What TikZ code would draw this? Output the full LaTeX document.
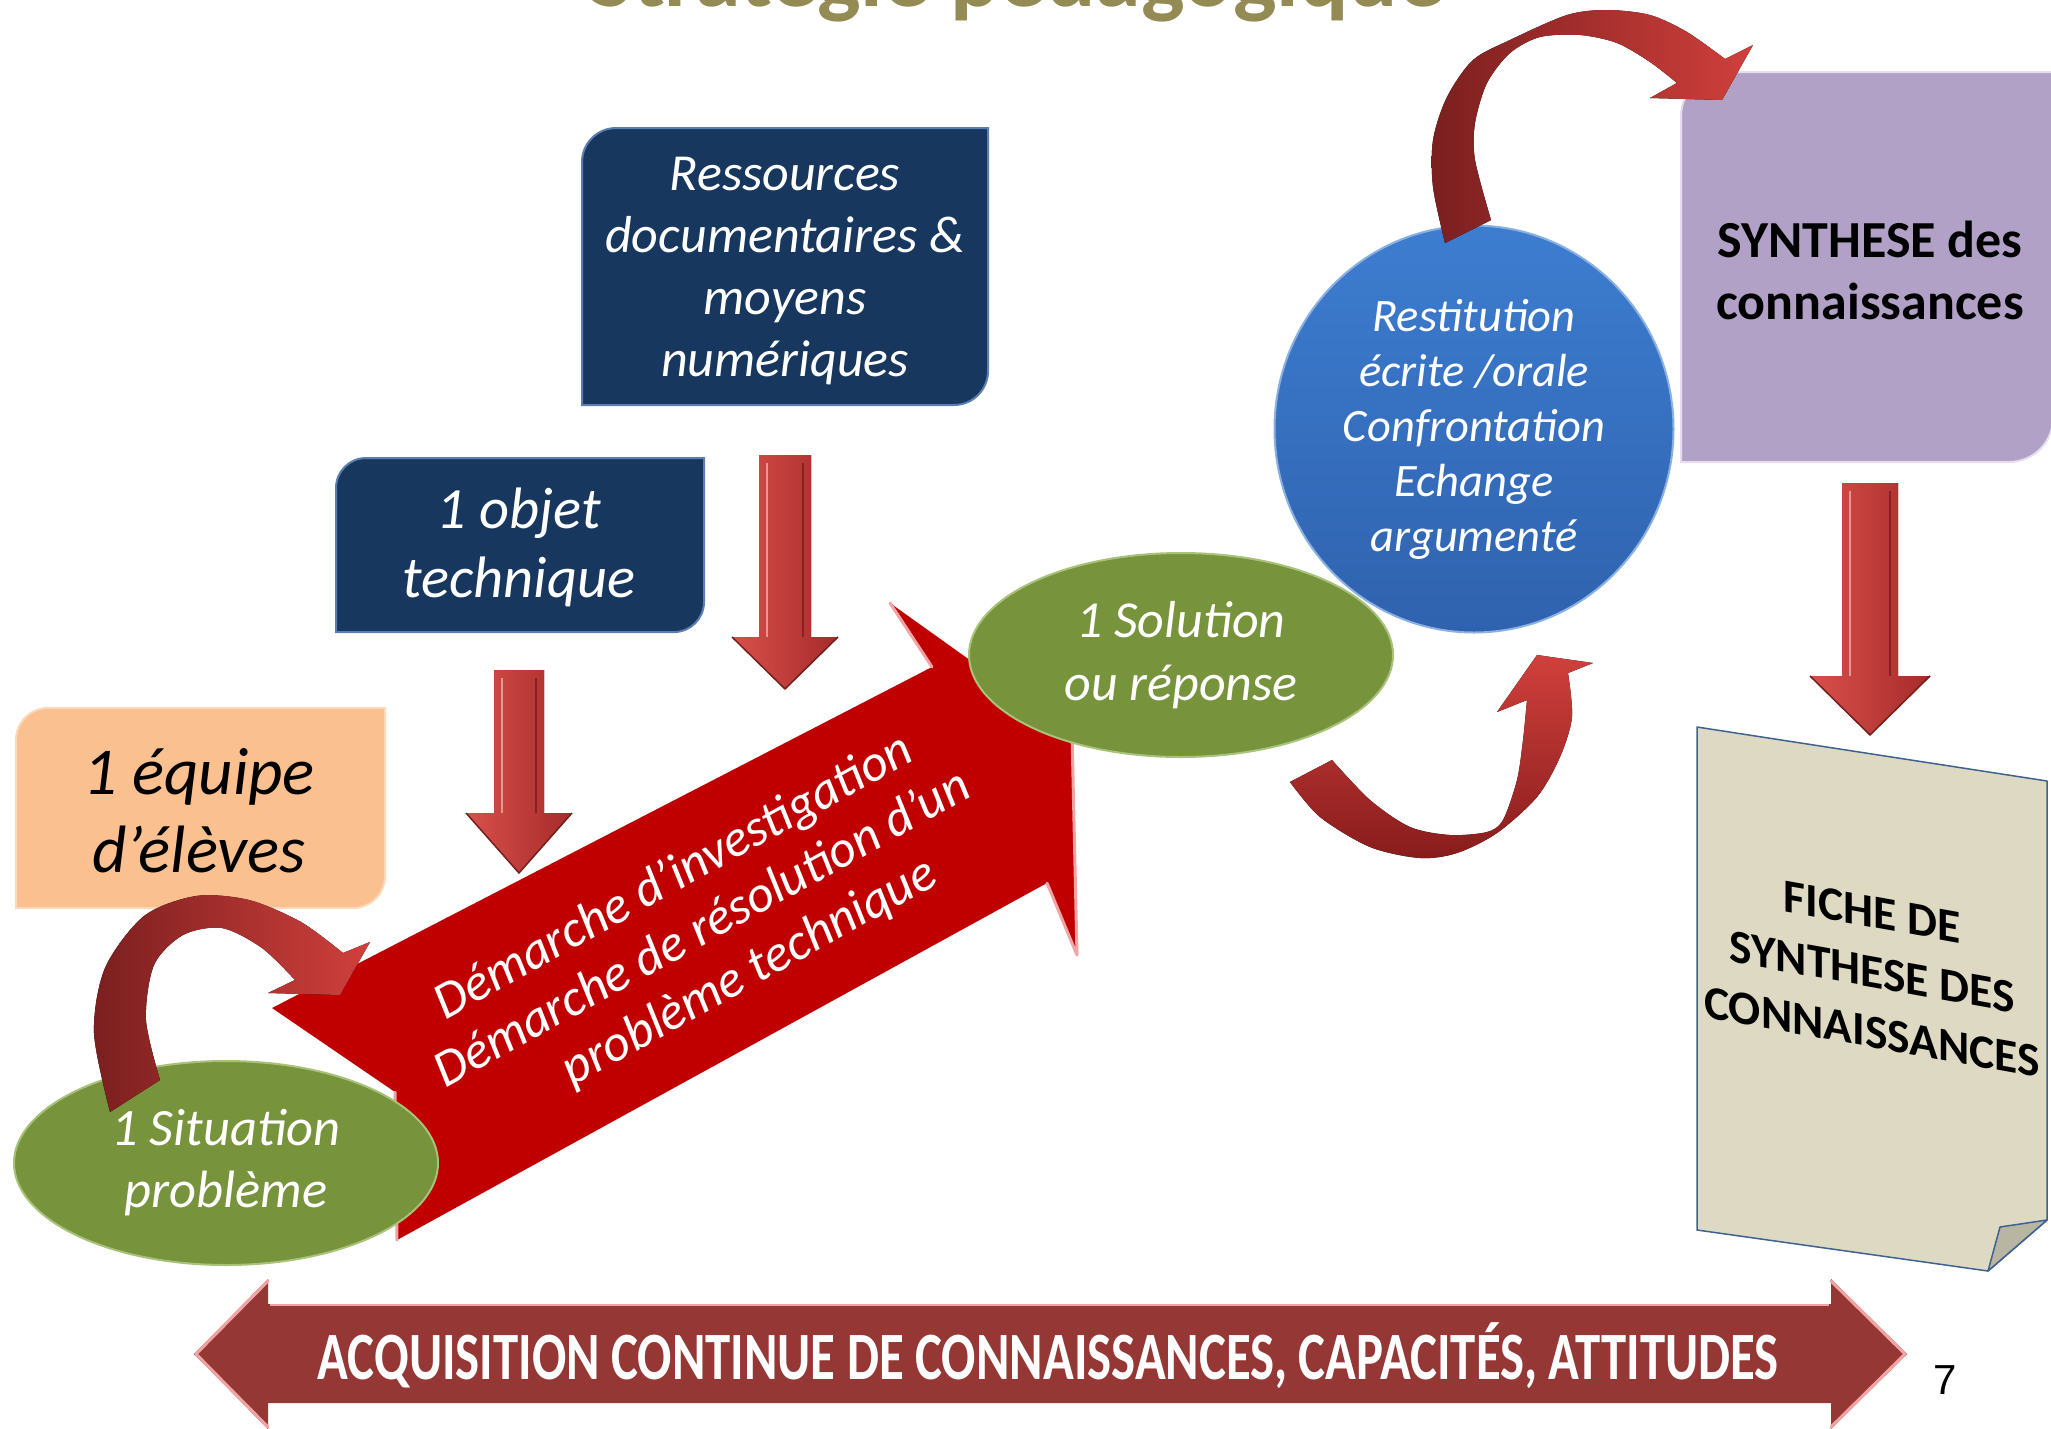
\documentclass[tikz,border=0pt]{standalone}
\usepackage{fontspec}
\setmainfont{Carlito}
\newfontfamily\arialfont{Liberation Sans}
\usepackage{graphicx}
\usetikzlibrary{shapes.geometric}
\definecolor{navy}{HTML}{17375E}
\definecolor{navyedge}{HTML}{5A7FB0}
\definecolor{peach}{HTML}{FAC090}
\definecolor{peachedge}{HTML}{FCD9B8}
\definecolor{lav}{HTML}{B2A1C7}
\definecolor{lavedge}{HTML}{E6DDF0}
\definecolor{olivegreen}{HTML}{77933C}
\definecolor{greenedge}{HTML}{A9C27A}
\definecolor{bluetop}{HTML}{3D7DD0}
\definecolor{bluebot}{HTML}{2F62AE}
\definecolor{bigred}{HTML}{C00000}
\definecolor{curvdark}{HTML}{7A1F1F}
\definecolor{curvlight}{HTML}{D0403C}
\definecolor{arrowl}{HTML}{D9504B}
\definecolor{arrowr}{HTML}{A52B2A}
\definecolor{bottomred}{HTML}{953735}
\definecolor{paper}{HTML}{DDD9C3}
\definecolor{paperfold}{HTML}{B9B5A3}
\definecolor{paperedge}{HTML}{3F6291}
\definecolor{titleolive}{HTML}{948A54}
\definecolor{pinkhl}{HTML}{F2A3A3}
% round-diagonal-corner rectangle: style, x1, y1, x2, y2, r
\newcommand\rdrect[6]{%
  \path[#1] (#2,#3+#6) .. controls (#2,#3+#6*0.448) and (#2+#6*0.448,#3) .. (#2+#6,#3)
    -- (#4,#3) -- (#4,#5-#6) .. controls (#4,#5-#6*0.448) and (#4-#6*0.448,#5) .. (#4-#6,#5)
    -- (#2,#5) -- cycle;}
% down block arrow: cx, ytop, ybase, ytip, half shaft, half head
\newcommand\dnarrow[6]{%
  \fill[downarr] (#1-#5,#2) -- (#1+#5,#2) -- (#1+#5,#3) -- (#1+#6,#3) -- (#1,#4)
    -- (#1-#6,#3) -- (#1-#5,#3) -- cycle;
  \draw[arrowl!60!white, line width=2pt] (#1-#5+8,#2+8) -- (#1-#5+8,#3);
  \draw[arrowr!80!black, line width=2pt] (#1+#5-8,#2+8) -- (#1+#5-8,#3);
  \draw[arrowr!70!black, line width=1.5pt, line join=round] (#1+#6,#3) -- (#1,#4) -- (#1-#6,#3);}
\tikzset{
  lbl/.style={align=center, inner sep=0pt, outer sep=0pt},
  downarr/.style={left color=arrowl, right color=arrowr},
  curvedarr/.style={left color=curvdark, right color=curvlight},
  greenell/.style={ellipse, fill=olivegreen, draw=greenedge, line width=2pt,
    text=white, align=center, inner sep=0pt},
  hl/.style={draw=pinkhl, line width=3pt, line join=round, line cap=round},
}
\begin{document}
\begin{tikzpicture}[x=1pt,y=-1pt]
\path[use as bounding box] (0,0) rectangle (2051,1428);
\clip (0,0) rectangle (2051,1428);
\fill[white] (0,0) rectangle (2051,1428);

% title (cut off by the top edge)
\node[lbl, anchor=base, text=titleolive, font=\bfseries\fontsize{92}{92}\selectfont]
  (title) at (1017,6) {Stratégie pédagogique};

% boxes
\rdrect{fill=navy, draw=navyedge, line width=2pt}{582}{128}{988}{405}{34}
\node[lbl, text=white, font=\itshape\fontsize{52}{62}\selectfont] (res) at (785,271)
  {Ressources\\documentaires \&\\moyens\\numériques};

\rdrect{fill=navy, draw=navyedge, line width=2pt}{336}{458}{704}{632}{30}
\node[lbl, text=white, font=\itshape\fontsize{58.5}{69}\selectfont] (obj) at (519,547)
  {1 objet\\technique};

\rdrect{fill=peach, draw=peachedge, line width=2pt}{16}{708}{385}{908}{32}
\node[lbl, text=black, font=\itshape\fontsize{67}{78}\selectfont] (eq) at (199,811)
  {1 équipe\\d’élèves};

\rdrect{fill=lav, draw=lavedge, line width=2pt}{1681}{72}{2053}{462}{44}
\node[lbl, text=black, font=\bfseries\fontsize{52}{62}\selectfont] (syn) at (1870,270)
  {SYNTHESE des\\connaissances};

% sheet
\filldraw[fill=paper, draw=paperedge, line width=1.5pt, line join=round]
  (1697,727) -- (2047,781) -- (2047,1220) -- (1988,1271) -- (1697,1230) -- cycle;
\filldraw[fill=paperfold, draw=paperedge, line width=1.5pt, line join=round]
  (2047,1220) -- (2000,1227) -- (1988,1271) -- cycle;
\node[lbl, yslant=-0.18, text=black, font=\bfseries\fontsize{47.5}{60}\selectfont] (fiche)
  at (1872,972) {FICHE DE\\SYNTHESE DES\\CONNAISSANCES};

% straight down arrows
\dnarrow{519}{670}{813}{873}{25}{53}
\dnarrow{785}{455}{637}{689}{26}{53}
\dnarrow{1870}{483}{676}{735}{28}{60}

% big red notched arrow
\fill[bigred] (272,1008) -- (932,667) -- (890,603) -- (1072,733) -- (1077,955)
  -- (1047,883) -- (397,1240) -- (395,1092) -- cycle;
\draw[hl] (890,603) -- (932,667);
\draw[hl] (1072,733) -- (1077,955) -- (1047,883);
\draw[hl] (395,1092) -- (397,1240);
\node[lbl, rotate=29, text=white, font=\itshape\fontsize{52}{60}\selectfont] (dem)
  at (703,930) {Démarche d’investigation\\Démarche de résolution d’un\\\hspace*{40pt}problème technique};

% blue circle
\node[ellipse, minimum width=399pt, minimum height=407pt, top color=bluetop,
  bottom color=bluebot, draw=bluetop!60!white, line width=2pt, text=white,
  align=center, inner sep=0pt, font=\itshape\fontsize{46.5}{55}\selectfont] (rest)
  at (1474,429) {Restitution\\écrite /orale\\Confrontation\\Echange\\argumenté};

% green ellipses
\node[greenell, minimum width=424pt, minimum height=204pt,
  font=\itshape\fontsize{52}{63}\selectfont] (sol) at (1181,655) {1 Solution\\ou réponse};
\node[greenell, minimum width=424pt, minimum height=204pt,
  font=\itshape\fontsize{52.5}{62}\selectfont] (sit) at (226,1163) {1 Situation\\problème};

% curved arrows
\fill[curvedarr] plot[smooth] coordinates {(110,1112) (94,1033) (105,968) (144,916)
  (196,896) (249,900) (301,922) (343,953)} -- (370,942) -- (340,995) -- (268,993)
  -- plot[smooth] coordinates {(295,980) (262,948) (222,928) (183,935) (154,965)
  (146,1020) (160,1080)} -- cycle;

\fill[curvedarr] plot[smooth] coordinates {(1445,243) (1433,187) (1433,140) (1447,97)
  (1473,60) (1510,40) (1567,15) (1607,10) (1650,15) (1687,32) (1725,59)}
  -- (1753,45) -- (1722,100) -- (1650,98)
  -- plot[smooth] coordinates {(1677,83) (1650,62) (1617,43) (1580,35) (1540,37)
  (1510,53) (1487,83) (1475,123) (1475,160) (1491,220)} -- cycle;

\fill[top color=curvlight, bottom color=curvdark!90!red] plot[smooth] coordinates {(1290,782)
  (1320,817) (1370,847) (1420,858) (1457,853) (1497,833) (1537,797) (1560,757)
  (1572,717) (1568,673)} -- (1593,663) -- (1537,655) -- (1497,712)
  -- plot[smooth] coordinates {(1527,700) (1523,740) (1517,780) (1503,820) (1487,832)
  (1450,835) (1410,827) (1370,800) (1332,760)} -- cycle;

% bottom double arrow
\fill[bottomred] (194,1354) -- (268,1279) -- (268,1304) -- (1831,1304) -- (1831,1279)
  -- (1907,1354) -- (1831,1429) -- (1831,1403) -- (268,1403) -- (268,1429) -- cycle;
\draw[hl] (268,1281) -- (196,1354) -- (268,1427);
\draw[hl] (1831,1281) -- (1905,1354) -- (1831,1427);
\draw[pinkhl, line width=2pt] (270,1305) -- (1829,1305);
\node[lbl, text=white, font=\bfseries] (acq) at (1048,1356)
  {\resizebox{1461pt}{!}{\scalebox{0.75}[1]{\fontsize{67}{67}\selectfont ACQUISITION CONTINUE DE CONNAISSANCES, CAPACITÉS, ATTITUDES}}};

\node[lbl, font=\arialfont\fontsize{42}{42}\selectfont] (pg) at (1945,1380) {7};
\end{tikzpicture}
\end{document}
